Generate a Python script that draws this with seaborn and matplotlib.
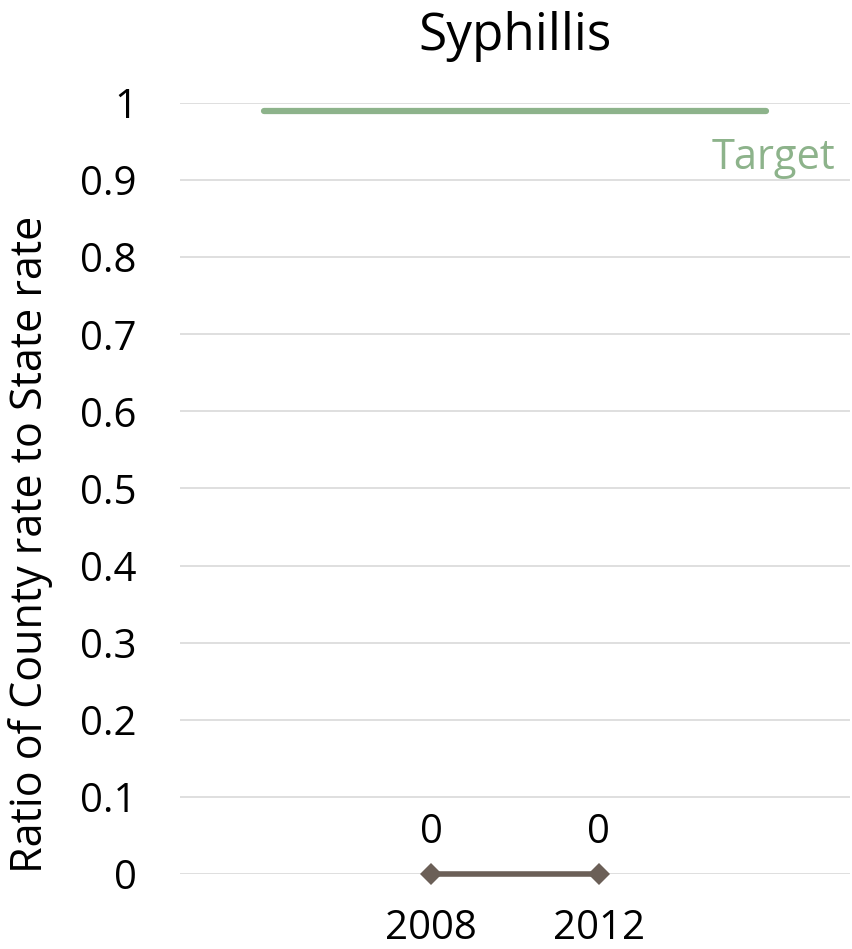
import matplotlib
matplotlib.use("Agg")
import matplotlib.pyplot as plt
import seaborn as sns
import numpy as np
import pandas as pd

categories = ["", "2008", "2012", ""]
county_ratio = [np.nan, 0.0, 0.0, np.nan]
target = [0.99, 0.99, 0.99, 0.99]
y_ticks = [0, 0.1, 0.2, 0.3, 0.4, 0.5, 0.6, 0.7, 0.8, 0.9, 1]
y_tick_labels = ["0", "0.1", "0.2", "0.3", "0.4", "0.5", "0.6", "0.7", "0.8", "0.9", "1"]
title = "Syphillis"
y_label = "Ratio of County rate to State rate"

sns.set_theme(style="white")
plt.rcParams['font.family'] = ['Open Sans', 'DejaVu Sans']
plt.rcParams['text.color'] = 'black'
plt.rcParams['xtick.color'] = 'black'
plt.rcParams['ytick.color'] = 'black'
plt.rcParams['axes.labelcolor'] = 'black'

df = pd.DataFrame({"pos": np.arange(len(categories)), "cat": categories,
                   "ratio": county_ratio, "target": target})

fig = plt.figure(figsize=(8.52, 9.49), dpi=100)
ax = fig.add_axes([0.2113, 0.079, 0.7864, 0.8125])

green = "#8DB38B"
brown = "#6B5F57"
fs = 29

for t in y_ticks:
    ax.axhline(t, color="#D9D9D9", lw=1.2, zorder=0)

sns.lineplot(data=df, x="pos", y="target", ax=ax, color=green, lw=4.5,
             solid_capstyle="round", legend=False)
sub = df.dropna(subset=["ratio"])
sns.lineplot(data=sub, x="pos", y="ratio", ax=ax, color=brown, lw=4,
             marker="D", markersize=11, markeredgewidth=0, legend=False)
ax.lines[-1].set_clip_on(False)

for p, v in zip(sub["pos"], sub["ratio"]):
    ax.annotate(f"{v:g}", (p, v), xytext=(0, 15), textcoords="offset points",
                ha="center", va="bottom", fontsize=fs, color="black")

ax.text(len(categories) - 1 + 0.41, target[-1] - 0.062, "Target", color=green,
        fontsize=30, ha="right", va="center")

ax.set_xlim(-0.5, len(categories) - 0.5)
ax.set_ylim(0, 1)
ax.set_xticks(df["pos"])
ax.set_xticklabels(categories, fontsize=fs)
ax.set_yticks(y_ticks)
ax.set_yticklabels(y_tick_labels, fontsize=fs)
ax.tick_params(axis="both", length=0)
ax.tick_params(axis="x", pad=25)
ax.tick_params(axis="y", pad=31)
ax.set_xlabel("")
ax.set_ylabel(y_label, fontsize=31)
ax.yaxis.set_label_coords(-0.19, 0.427)
ax.set_title(title, fontsize=37, pad=38)
for s in ax.spines.values():
    s.set_visible(False)

fig.savefig("out.png", dpi=100)
